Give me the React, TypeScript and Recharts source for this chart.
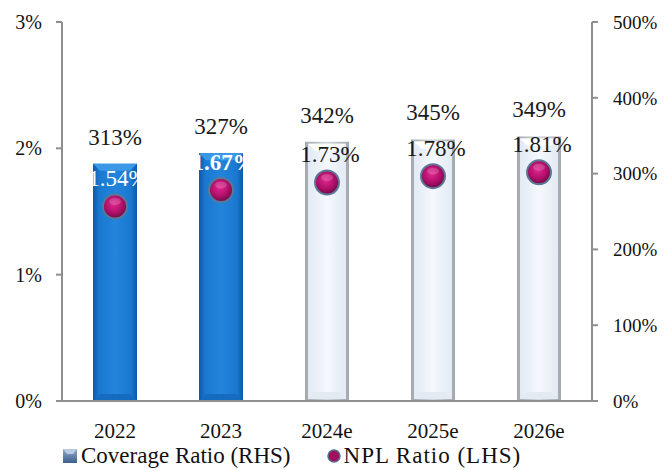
import React from 'react';
import { ComposedChart, Bar, Line, XAxis, YAxis, Legend, LabelList } from 'recharts';

const years = ['2022', '2023', '2024e', '2025e', '2026e'];
const coverageRatio = [313, 327, 342, 345, 349];
const nplRatio = [1.54, 1.67, 1.73, 1.78, 1.81];
const leftTicks = [0, 1, 2, 3];
const rightTicks = [0, 100, 200, 300, 400, 500];

const data = years.map((year, i) => ({ year, coverage: coverageRatio[i], npl: nplRatio[i] }));

const FONT = '"Liberation Serif", serif';
const AXIS = '#8f8f8f';

const BarShape = (props: any) => {
    const { x, y, width, height, index } = props;
    const actual = index < 2;
    const b = 7;
    if (actual) {
        return (
            <g>
                <rect x={x} y={y} width={width} height={height} fill="url(#gBlue)" />
                <polygon points={`${x},${y} ${x + width},${y} ${x + width - b},${y + b} ${x + b},${y + b}`} fill="#3b98e6" />
                <polygon points={`${x},${y + height} ${x + width},${y + height} ${x + width - b},${y + height - b} ${x + b},${y + height - b}`} fill="#156bbf" />
            </g>
        );
    }
    return (
        <g>
            <rect x={x} y={y} width={width} height={height} fill="url(#gGrey)" />
            <rect x={x + 3} y={y + 2} width={width - 6} height={height - 4} fill="url(#gLight)" />
            <polygon points={`${x + 3},${y + 2} ${x + width - 3},${y + 2} ${x + width - 3 - b},${y + 2 + b} ${x + 3 + b},${y + 2 + b}`} fill="#ffffff" />
            <polygon points={`${x + 3},${y + height - 2} ${x + width - 3},${y + height - 2} ${x + width - 3 - b},${y + height - 2 - b} ${x + 3 + b},${y + height - 2 - b}`} fill="#e3eaf2" />
        </g>
    );
};

const Ball = (props: any) => {
    const { cx, cy, index } = props;
    if (cx == null || cy == null) return null;
    return (
        <g key={`ball-${index}`}>
            <circle cx={cx} cy={cy} r={12} fill="url(#gBall)" stroke="#5b7896" strokeWidth={2} />
            <ellipse cx={cx} cy={cy - 5} rx={6} ry={3.5} fill="#ffffff" opacity={0.18} />
        </g>
    );
};

const NplLabel = (props: any) => {
    const { value, index } = props;
    const px = props.x ?? props.viewBox?.x;
    const py = props.y ?? props.viewBox?.y;
    return (
        <text
            x={px + 3}
            y={py - 20}
            textAnchor="middle"
            fill={index < 2 ? '#ffffff' : '#1a1a1a'}
            fontWeight={index === 1 ? 'bold' : 'normal'}
            fontSize={23}
            fontFamily={FONT}
        >
            {`${Number(value).toFixed(2)}%`}
        </text>
    );
};

const LegendContent = () => (
    <div style={{ height: 29, display: 'flex', alignItems: 'center', fontFamily: FONT, fontSize: 23, color: '#111', paddingLeft: 63 }}>
        <svg width={15} height={14} style={{ marginRight: 3 }}>
            <defs>
                <linearGradient id="lgSq" x1="0" y1="0" x2="0" y2="1">
                    <stop offset="0%" stopColor="#8fa8c8" />
                    <stop offset="100%" stopColor="#3d5f8c" />
                </linearGradient>
            </defs>
            <rect x={0} y={0} width={14} height={14} fill="url(#lgSq)" />
            <polygon points="0,0 14,0 10,5 4,5" fill="#b9cbe0" />
        </svg>
        <span>Coverage Ratio (RHS)</span>
        <svg width={14} height={14} style={{ marginLeft: 36, marginRight: 3 }}>
            <circle cx={7} cy={7} r={6} fill="#a0105f" stroke="#56708c" strokeWidth={1.5} />
        </svg>
        <span style={{ letterSpacing: 1 }}>NPL Ratio (LHS)</span>
    </div>
);

export default function App() {
    return (
        <div style={{ position: 'absolute', top: 0, left: 0, background: '#fff' }}>
            <ComposedChart width={667} height={470} data={data} margin={{ top: 22, right: 0, bottom: 0, left: 0 }} barCategoryGap={0}>
                <defs>
                    <linearGradient id="gBlue" x1="0" y1="0" x2="1" y2="0">
                        <stop offset="0%" stopColor="#0c5aa8" />
                        <stop offset="14%" stopColor="#1a78cf" />
                        <stop offset="50%" stopColor="#2384dc" />
                        <stop offset="86%" stopColor="#1a78cf" />
                        <stop offset="100%" stopColor="#0c5aa8" />
                    </linearGradient>
                    <linearGradient id="gGrey" x1="0" y1="0" x2="1" y2="0">
                        <stop offset="0%" stopColor="#a3a8ad" />
                        <stop offset="50%" stopColor="#d3d7db" />
                        <stop offset="100%" stopColor="#a3a8ad" />
                    </linearGradient>
                    <linearGradient id="gLight" x1="0" y1="0" x2="1" y2="0">
                        <stop offset="0%" stopColor="#e2eaf4" />
                        <stop offset="50%" stopColor="#f5f8fd" />
                        <stop offset="100%" stopColor="#e2eaf4" />
                    </linearGradient>
                    <radialGradient id="gBall" cx="45%" cy="40%" r="60%">
                        <stop offset="0%" stopColor="#e2268f" />
                        <stop offset="60%" stopColor="#b0106a" />
                        <stop offset="100%" stopColor="#6e0a44" />
                    </radialGradient>
                </defs>
                <XAxis
                    dataKey="year"
                    axisLine={{ stroke: AXIS, strokeWidth: 2 }}
                    tickLine={false}
                    tickMargin={16}
                    height={40}
                    tick={{ fontSize: 21, fill: '#111', fontFamily: FONT }}
                />
                <YAxis
                    yAxisId="left"
                    orientation="left"
                    domain={[0, 3]}
                    ticks={leftTicks}
                    width={62}
                    axisLine={{ stroke: AXIS, strokeWidth: 2 }}
                    tickLine={{ stroke: AXIS, strokeWidth: 2 }}
                    tickSize={6}
                    tickMargin={14}
                    tickFormatter={(v) => `${v}%`}
                    tick={{ fontSize: 20, fill: '#111', fontFamily: FONT }}
                />
                <YAxis
                    yAxisId="right"
                    orientation="right"
                    domain={[0, 500]}
                    ticks={rightTicks}
                    width={75}
                    axisLine={{ stroke: AXIS, strokeWidth: 2 }}
                    tickLine={{ stroke: AXIS, strokeWidth: 2 }}
                    tickSize={6}
                    tickMargin={15}
                    tickFormatter={(v) => `${v}%`}
                    tick={{ fontSize: 19, fill: '#111', fontFamily: FONT }}
                />
                <Legend verticalAlign="bottom" content={<LegendContent />} wrapperStyle={{ left: 0, width: 667 }} />
                <Bar yAxisId="right" dataKey="coverage" name="Coverage Ratio (RHS)" barSize={44} shape={<BarShape />} isAnimationActive={false}>
                    <LabelList
                        dataKey="coverage"
                        position="top"
                        offset={19}
                        formatter={(v: any) => `${v}%`}
                        style={{ fontSize: 23, fill: '#1a1a1a', fontFamily: FONT }}
                    />
                </Bar>
                <Line
                    yAxisId="left"
                    dataKey="npl"
                    name="NPL Ratio (LHS)"
                    stroke="none"
                    dot={<Ball />}
                    activeDot={false}
                    isAnimationActive={false}
                >
                    <LabelList dataKey="npl" content={<NplLabel />} />
                </Line>
            </ComposedChart>
        </div>
    );
}
